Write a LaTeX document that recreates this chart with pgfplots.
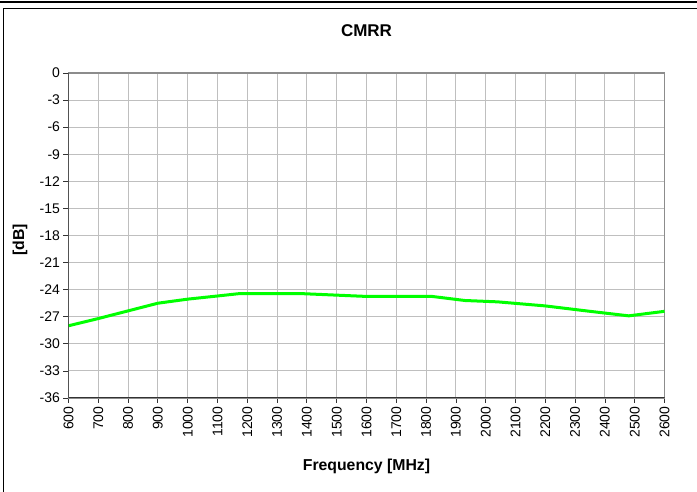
\documentclass[border=0pt]{standalone}
\usepackage{fontspec}
\setmainfont{Liberation Sans}
\usepackage{pgfplots}
\pgfplotsset{compat=1.18}
\begin{document}
\begin{tikzpicture}[x=1pt,y=1pt]
\useasboundingbox (-68.5,-94) rectangle (628.5,398);
\draw[line width=2.5pt] (-68.5,396) -- (628.5,396);
\draw[line width=1pt] (-65,-96) -- (-65,389) -- (630.5,389);
\begin{axis}[at={(0pt,0pt)}, anchor=south west, scale only axis,
  width=596pt, height=325pt,
  xmin=600, xmax=2600, ymin=-36, ymax=0,
  xtick={600,700,...,2600}, ytick={-36,-33,...,0},
  grid=major, major grid style={draw=black!25, line width=0.9pt},
  axis line style={draw=black!45, line width=1.2pt},
  tick align=outside, tick pos=left, major tick length=5pt,
  tick style={black!80, line width=0.8pt},
  /pgf/number format/assume math mode=true,
  /pgf/number format/1000 sep={},
  xticklabel style={rotate=90, anchor=east, font=\fontsize{14}{14}\selectfont},
  yticklabel style={font=\fontsize{14}{14}\selectfont},
  title={\textbf{CMRR}},
  title style={at={(axis description cs:0.5,1.111)}, anchor=center, font=\fontsize{17}{17}\selectfont},
  xlabel={\textbf{Frequency [MHz]}},
  xlabel style={at={(axis description cs:0.5,-0.212)}, anchor=center, font=\fontsize{15.8}{15.8}\selectfont},
  ylabel={\textbf{[dB]}},
  ylabel style={at={(axis description cs:-0.0814,0.486)}, anchor=center, font=\fontsize{15.8}{15.8}\selectfont},
]
\addplot[draw={rgb,255:red,0;green,255;blue,0}, line width=3pt, mark=none] coordinates {
(600,-28.0) (700,-27.2) (800,-26.35) (900,-25.5) (1000,-25.05) (1100,-24.7)
(1170,-24.45) (1390,-24.45) (1600,-24.75) (1820,-24.75) (1930,-25.2)
(2040,-25.35) (2200,-25.8) (2350,-26.4) (2480,-26.9) (2600,-26.4)
};
\draw[black!80, line width=1.2pt] (rel axis cs:0,1) -- (rel axis cs:0,0) -- (rel axis cs:1,0);
\end{axis}
\end{tikzpicture}
\end{document}
